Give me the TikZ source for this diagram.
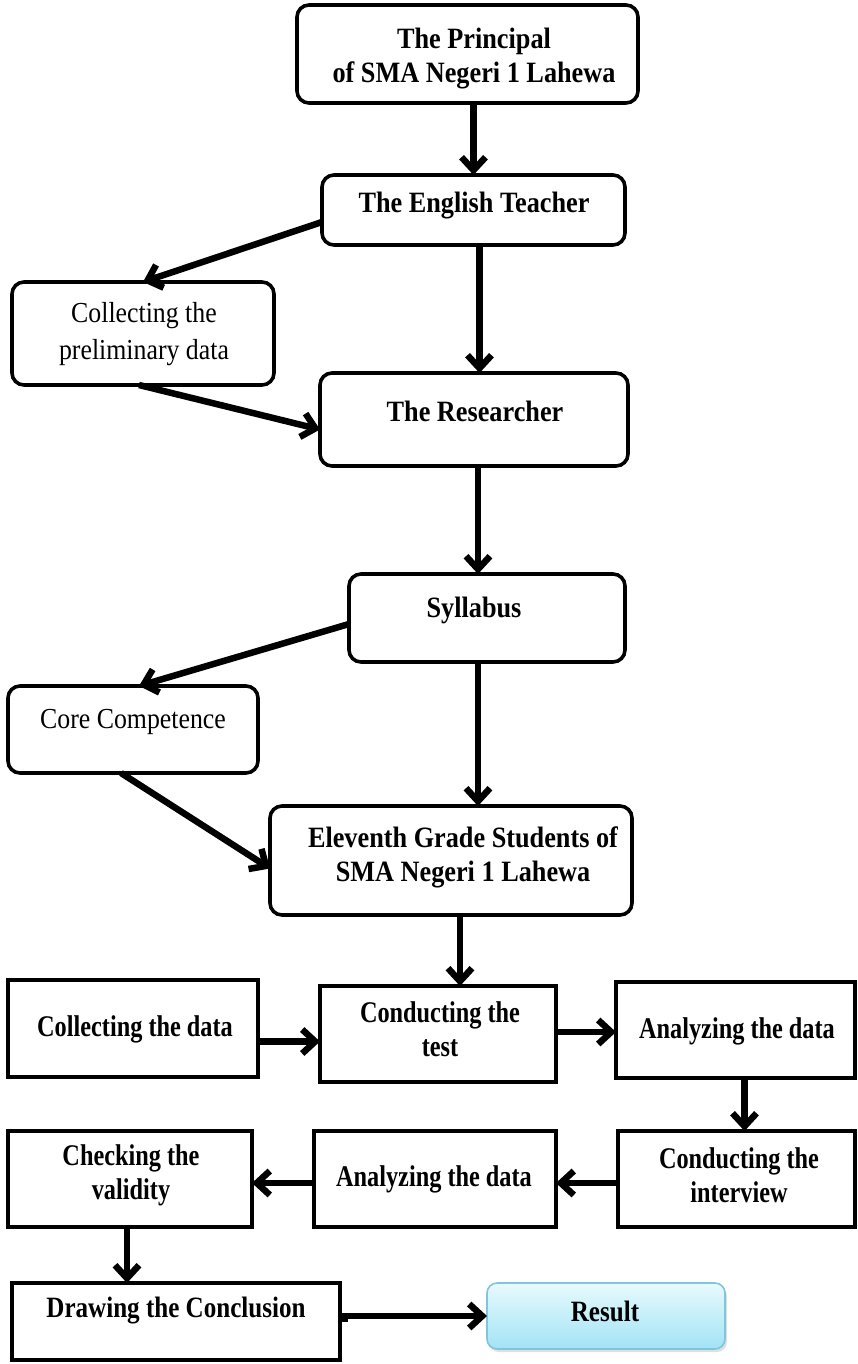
\documentclass[tikz,border=0pt]{standalone}
\usepackage{fontspec}
\setmainfont{Liberation Serif}[FakeStretch=0.89]
\newfontfamily\condfont{Liberation Serif}[FakeStretch=0.81]
\newfontfamily\semicondfont{Liberation Serif}[FakeStretch=0.85]
\usetikzlibrary{arrows.meta,shadows,calc}
\definecolor{rsTop}{HTML}{E8FAFE}
\definecolor{rsBot}{HTML}{A2E3F5}
\definecolor{rsBorder}{HTML}{7FC6DA}
\tikzset{
  box/.style={draw, inner sep=0pt, outer sep=0pt},
  rbox/.style={box, line width=3.6pt, rounded corners=12pt},
  sbox/.style={box, line width=4pt},
  tx/.style={align=center, inner sep=0pt, font=\fontsize{29.5}{34}\selectfont\bfseries},
  txc/.style={align=center, inner sep=0pt, font=\condfont\fontsize{30}{34}\selectfont\bfseries},
  txs/.style={align=center, inner sep=0pt, font=\semicondfont\fontsize{29.5}{34}\selectfont\bfseries},
  txr/.style={align=center, inner sep=0pt, font=\fontsize{29}{37}\selectfont},
  arr/.style={line width=6.5pt, -{Straight Barb[length=13pt,width=24pt]}},
}
\begin{document}
\begin{tikzpicture}[x=1pt,y=-1pt]
\useasboundingbox (0,0) rectangle (857,1364);
% boxes
\node[rbox, minimum width=341, minimum height=98] (prin) at (467.5,54) {};
\node[rbox, minimum width=303, minimum height=70] (eng) at (473.5,210) {};
\node[rbox, minimum width=262, minimum height=103] (pre) at (143,333.5) {};
\node[rbox, minimum width=308, minimum height=93] (res) at (474,419.5) {};
\node[rbox, minimum width=276, minimum height=88] (syl) at (487,618) {};
\node[rbox, minimum width=250, minimum height=87] (core) at (133,729.5) {};
\node[rbox, minimum width=362, minimum height=109] (el) at (451,860.5) {};
\node[sbox, minimum width=250, minimum height=97] (cd) at (133,1028.5) {};
\node[sbox, minimum width=236, minimum height=96] (ct) at (438,1034) {};
\node[sbox, minimum width=239, minimum height=96] (ad1) at (735.5,1030) {};
\node[sbox, minimum width=244, minimum height=96] (cv) at (130,1179) {};
\node[sbox, minimum width=242, minimum height=96] (ad2) at (435,1179) {};
\node[sbox, minimum width=237, minimum height=96] (ci) at (736.5,1179) {};
\node[sbox, minimum width=328, minimum height=77] (dc) at (176,1321.5) {};
\node[box, draw=rsBorder, line width=1.6pt, rounded corners=10pt, top color=rsTop, bottom color=rsBot,
      drop shadow={opacity=0.25, shadow xshift=2pt, shadow yshift=-3pt},
      minimum width=238, minimum height=66] (rs) at (606,1316) {};
% texts
\node[tx] (prinT) at (474,59) {The Principal\\of SMA Negeri 1 Lahewa};
\node[tx] (engT) at (474,206) {The English Teacher};
\node[txr] (preT) at (144,334) {Collecting the\\preliminary data};
\node[tx] (resT) at (475,411) {The Researcher};
\node[tx] (sylT) at (474,610) {Syllabus};
\node[txr] (coreT) at (133,722) {Core Competence};
\node[tx] (elT) at (463,857) {Eleventh Grade Students of\\SMA Negeri 1 Lahewa};
\node[txc] (cdT) at (135,1029) {Collecting the data};
\node[txc] (ctT) at (440,1029) {Conducting the\\test};
\node[txc] (ad1T) at (737,1031) {Analyzing the data};
\node[txc] (cvT) at (131,1175) {Checking the\\validity};
\node[txc] (ad2T) at (434,1179) {Analyzing the data};
\node[txc] (ciT) at (739,1175) {Conducting the\\interview};
\node[txs] (dcT) at (176,1311) {Drawing the Conclusion};
\node[txs] (rsT) at (605,1311) {Result};
% connectors
\draw[arr] ([xshift=6pt]prin.south) -- ([xshift=6pt]prin.south |- eng.north);
\draw[arr] ([yshift=-12pt]eng.west) -- (pre.north);
\draw[arr] ([xshift=6pt]eng.south) -- ([xshift=6pt]eng.south |- res.north);
\draw[arr] ([xshift=-4pt]pre.south) -- ([yshift=-10pt]res.west);
\draw[arr] ([xshift=4pt]res.south) -- ([xshift=4pt]res.south |- syl.north);
\draw[arr] ([yshift=-6pt]syl.west) -- ([xshift=6pt]core.north);
\draw[arr] ([xshift=-9pt]syl.south) -- ([xshift=-9pt]syl.south |- el.north);
\draw[arr] ([xshift=-12pt]core.south) -- ([yshift=-8pt]el.west);
\draw[arr] ([xshift=9pt]el.south) -- ([xshift=9pt]el.south |- ct.north);
\draw[arr] ([yshift=-13pt]cd.east) -- ([yshift=-13pt]cd.east -| ct.west);
\draw[arr] ([yshift=2pt]ct.east) -- ([yshift=2pt]ct.east -| ad1.west);
\draw[arr] ([xshift=9pt]ad1.south) -- ([xshift=9pt]ad1.south |- ci.north);
\draw[arr] ([yshift=-4pt]ci.west) -- ([yshift=-4pt]ci.west -| ad2.east);
\draw[arr] ([yshift=-4pt]ad2.west) -- ([yshift=-4pt]ad2.west -| cv.east);
\draw[arr] ([xshift=-3pt]cv.south) -- ([xshift=-3pt]cv.south |- dc.north);
\draw[arr] ([xshift=5pt]dc.east) -- ([xshift=5pt]dc.east |- rs.west) -- (rs.west);
\end{tikzpicture}
\end{document}
